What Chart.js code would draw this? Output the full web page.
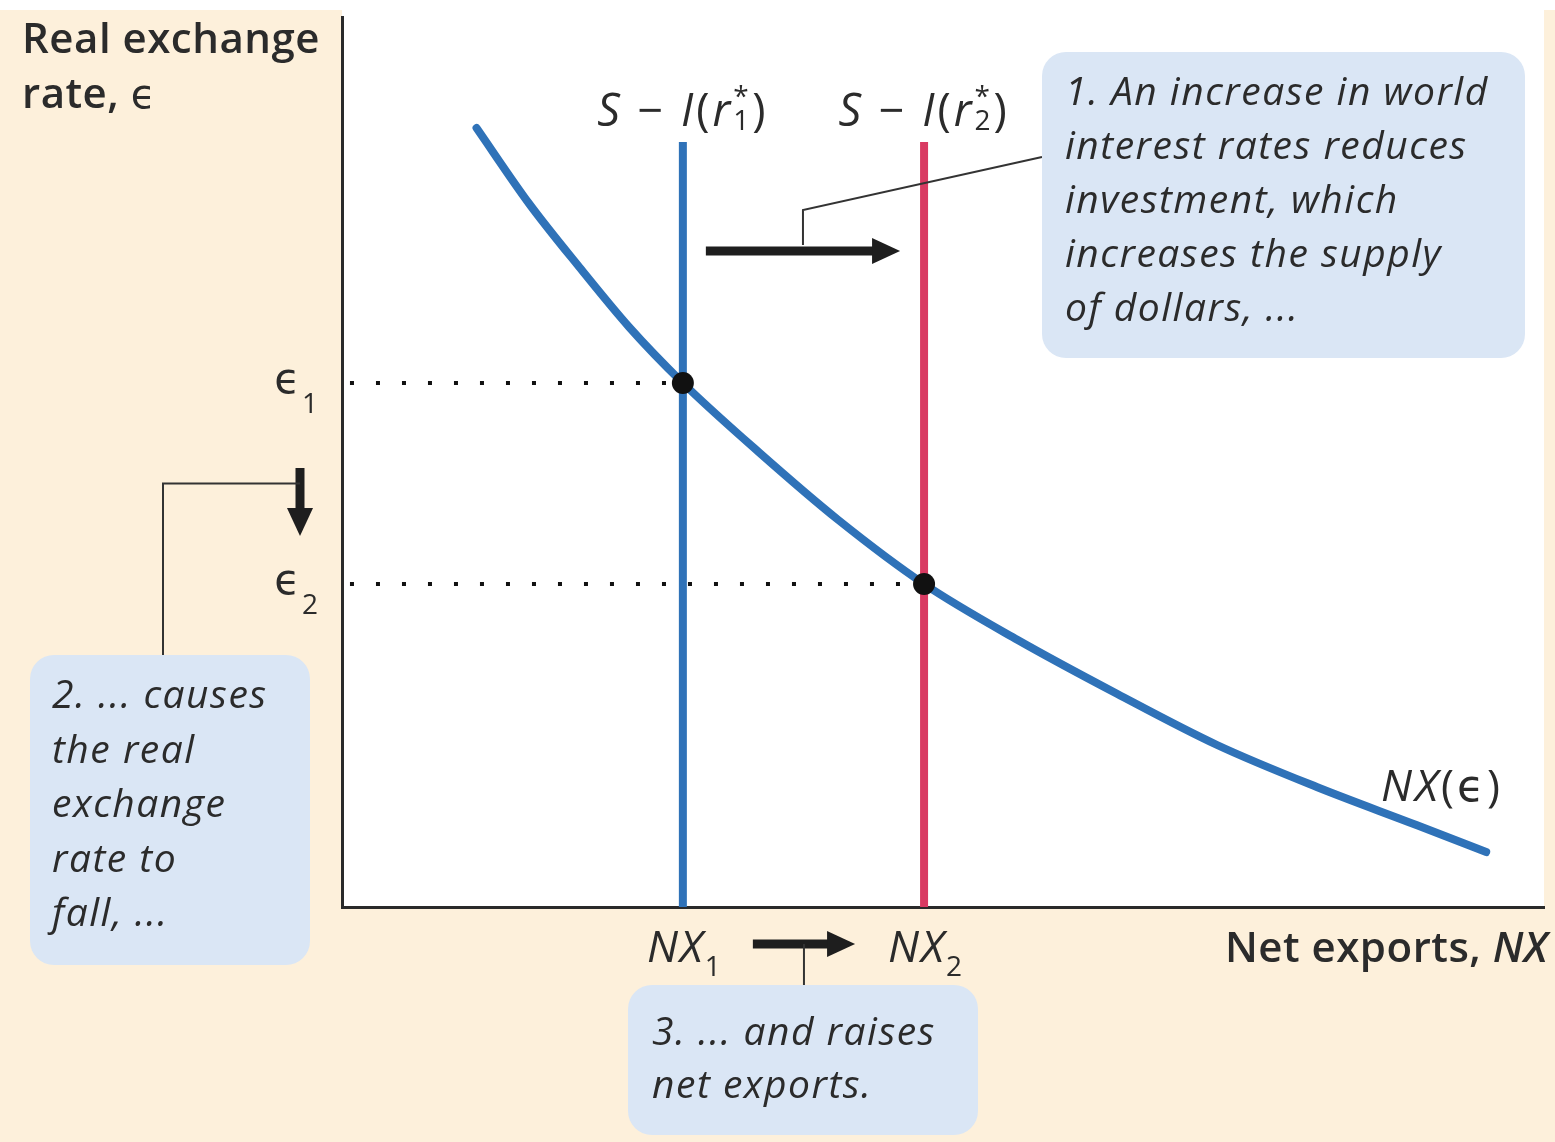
<!DOCTYPE html>
<html>
<head>
<meta charset="utf-8">
<script src="https://cdn.jsdelivr.net/npm/chart.js@4.4.1/dist/chart.umd.min.js"></script>
<style>
  html, body { margin: 0; padding: 0; background: #fdf0db; }
  #wrap { width: 1555px; height: 1142px; position: relative; }
</style>
</head>
<body>
<div id="wrap"><canvas id="chart" width="1555" height="1142"></canvas></div>
<script>
// NX(eps) curve (x = net exports, y = real exchange rate)
var curveNX  = [13.5, 18.8, 23.8, 28.8, 34.2, 41.8, 49.8, 58.4, 67.8, 77.8, 87.8, 97.8, 107.8, 114.8];
var curveEps = [77.9, 70.3, 64.0, 58.0, 52.4, 45.5, 38.7, 32.3, 26.7, 21.3, 16.2, 12.0, 8.2, 5.5];
// S - I(r*) vertical lines and the two equilibria
var nxLevels  = [34.2, 58.4];   // NX1, NX2
var epsLevels = [52.4, 32.3];   // eps1, eps2
var lineTop = 76.5;
var xRange = [0, 120.6];
var yRange = [0, 89];

var BLUE = '#2f72b8';
var RED = '#d93a62';
var INK = '#2b2b2b';
var BOX = '#dae6f5';
var FAM = '"Open Sans", "DejaVu Sans", sans-serif';

function pts(xs, ys) {
  return xs.map(function(x, i) { return { x: x, y: ys[i] }; });
}

// draw a row of text pieces with different fonts / offsets
function rich(ctx, parts, x, y, align, sp) {
  ctx.letterSpacing = (sp || 0) + 'px';
  var w = 0;
  parts.forEach(function(p) {
    ctx.font = p.f;
    p.w = p.adv != null ? p.adv : ctx.measureText(p.t).width;
    w += p.w;
  });
  var cx = align === 'center' ? x - w / 2 : (align === 'right' ? x - w : x);
  ctx.textAlign = 'left';
  parts.forEach(function(p) {
    ctx.font = p.f;
    ctx.fillText(p.t, cx + (p.dx || 0), y + (p.dy || 0));
    cx += p.w;
  });
  ctx.letterSpacing = '0px';
}

function arrow(ctx, x1, y1, x2, y2) {
  var ang = Math.atan2(y2 - y1, x2 - x1);
  var hl = 28, hw = 13;
  var bx = x2 - hl * Math.cos(ang), by = y2 - hl * Math.sin(ang);
  ctx.strokeStyle = '#1e1e1e';
  ctx.lineWidth = 9;
  ctx.lineCap = 'butt';
  ctx.beginPath(); ctx.moveTo(x1, y1); ctx.lineTo(bx + 2 * Math.cos(ang), by + 2 * Math.sin(ang)); ctx.stroke();
  ctx.fillStyle = '#1e1e1e';
  ctx.beginPath();
  ctx.moveTo(x2, y2);
  ctx.lineTo(bx - hw * Math.sin(ang), by + hw * Math.cos(ang));
  ctx.lineTo(bx + hw * Math.sin(ang), by - hw * Math.cos(ang));
  ctx.closePath(); ctx.fill();
}

function poly(ctx, list) {
  ctx.strokeStyle = '#333';
  ctx.lineWidth = 2;
  ctx.beginPath();
  ctx.moveTo(list[0][0], list[0][1]);
  for (var i = 1; i < list.length; i++) ctx.lineTo(list[i][0], list[i][1]);
  ctx.stroke();
}

function box(ctx, x, y, w, h, r) {
  ctx.fillStyle = BOX;
  ctx.beginPath();
  ctx.moveTo(x + r, y);
  ctx.arcTo(x + w, y, x + w, y + h, r);
  ctx.arcTo(x + w, y + h, x, y + h, r);
  ctx.arcTo(x, y + h, x, y, r);
  ctx.arcTo(x, y, x + w, y, r);
  ctx.closePath(); ctx.fill();
}

function lines(ctx, list, x, y, step) {
  ctx.fillStyle = INK;
  ctx.font = 'italic 39px ' + FAM;
  ctx.letterSpacing = '1.5px';
  ctx.textAlign = 'left';
  list.forEach(function(t, i) { ctx.fillText(t, x, y + i * step); });
  ctx.letterSpacing = '0px';
}

var backdrop = {
  id: 'backdrop',
  beforeDraw: function(chart) {
    var ctx = chart.ctx, a = chart.chartArea;
    ctx.save();
    ctx.fillStyle = '#fdf0db';
    ctx.fillRect(0, 0, chart.width, chart.height);
    ctx.fillStyle = '#ffffff';
    ctx.fillRect(0, 0, chart.width, 10);
    ctx.fillRect(a.left, 0, a.right - a.left, a.bottom);
    ctx.restore();
  }
};

var notes = {
  id: 'notes',
  afterDatasetsDraw: function(chart) {
    var ctx = chart.ctx;
    var xs = chart.scales.x, ys = chart.scales.y;
    var x1 = xs.getPixelForValue(nxLevels[0]), x2 = xs.getPixelForValue(nxLevels[1]);
    var e1 = ys.getPixelForValue(epsLevels[0]), e2 = ys.getPixelForValue(epsLevels[1]);
    var base = ys.getPixelForValue(0);
    ctx.save();
    ctx.textBaseline = 'alphabetic';
    ctx.fillStyle = INK;

    // axis titles
    rich(ctx, [{ t: 'Real exchange', f: '600 42px ' + FAM }], 22, 53, 'left', 0.5);
    rich(ctx, [{ t: 'rate, ', f: '600 42px ' + FAM }, { t: '\u03f5', f: '40px ' + FAM }], 22, 108, 'left', 0.5);
    rich(ctx, [
      { t: 'Net exports, ', f: '600 42px ' + FAM },
      { t: 'NX', f: 'italic 600 42px ' + FAM }
    ], 1548, base + 55, 'right', 0.5);

    // S - I(r*) labels
    var IT = 'italic 45px ' + FAM, RG = '45px ' + FAM, SM = '28px ' + FAM;
    ['1', '2'].forEach(function(n, i) {
      rich(ctx, [
        { t: 'S', f: IT }, { t: ' \u2212 ', f: RG }, { t: 'I', f: IT },
        { t: '(', f: RG }, { t: 'r', f: IT },
        { t: '*', f: SM, dy: -20, adv: 0 }, { t: n, f: SM, dy: 4 },
        { t: ')', f: RG }
      ], i === 0 ? x1 : x2, 126, 'center', 3);
    });

    // eps ticks
    [e1, e2].forEach(function(py, i) {
      rich(ctx, [
        { t: '\u03f5', f: '42px ' + FAM },
        { t: String(i + 1), f: '28px ' + FAM, dy: 20 }
      ], 320, py + 10, 'right', 2);
    });

    // NX ticks
    [x1, x2].forEach(function(px, i) {
      rich(ctx, [
        { t: 'NX', f: 'italic 44px ' + FAM },
        { t: String(i + 1), f: '28px ' + FAM, dy: 14 }
      ], px + 2, base + 55, 'center', 2);
    });

    // NX(eps) label
    rich(ctx, [
      { t: 'NX', f: 'italic 44px ' + FAM },
      { t: '(\u03f5)', f: '44px ' + FAM }
    ], 1503, 801, 'right', 3);

    // arrows and callout leaders
    var ay = 251;
    arrow(ctx, x1 + 23, ay, x2 - 24, ay);
    var am = (x1 + 23 + x2 - 24) / 2;
    poly(ctx, [[am, ay - 6], [am, 210], [1042, 157]]);

    arrow(ctx, 300, e1 + 85, 300, e2 - 48);
    poly(ctx, [[300, (e1 + e2) / 2], [163, (e1 + e2) / 2], [163, 655]]);

    var by = base + 37;
    arrow(ctx, x1 + 70, by, x2 - 69, by);
    var bm = (x1 + 70 + x2 - 69) / 2;
    poly(ctx, [[bm, by], [bm, 985]]);

    // callout boxes
    box(ctx, 1042, 52, 483, 306, 24);
    lines(ctx, ['1. An increase in world', 'interest rates reduces', 'investment, which',
      'increases the supply', 'of dollars, ...'], 1065, 105, 54);
    box(ctx, 30, 655, 280, 310, 24);
    lines(ctx, ['2. ... causes', 'the real', 'exchange', 'rate to', 'fall, ...'], 52, 708, 54.5);
    box(ctx, 628, 985, 350, 150, 24);
    lines(ctx, ['3. ... and raises', 'net exports.'], 652, 1045, 53);

    ctx.restore();
  }
};

var ctx = document.getElementById('chart').getContext('2d');
var chart = new Chart(ctx, {
  type: 'scatter',
  data: {
    datasets: [
      {
        label: 'equilibria',
        data: pts(nxLevels, epsLevels),
        pointRadius: 11,
        pointBackgroundColor: '#111',
        pointBorderWidth: 0,
        showLine: false
      },
      {
        label: 'NX(eps)',
        data: pts(curveNX, curveEps),
        showLine: true,
        borderColor: BLUE,
        borderWidth: 8,
        borderCapStyle: 'round',
        cubicInterpolationMode: 'monotone',
        pointRadius: 0
      },
      {
        label: 'S - I(r1*)',
        data: [{ x: nxLevels[0], y: 0 }, { x: nxLevels[0], y: lineTop }],
        showLine: true,
        borderColor: BLUE,
        borderWidth: 8,
        pointRadius: 0
      },
      {
        label: 'S - I(r2*)',
        data: [{ x: nxLevels[1], y: 0 }, { x: nxLevels[1], y: lineTop }],
        showLine: true,
        borderColor: RED,
        borderWidth: 8,
        pointRadius: 0
      },
      {
        label: 'eps1 guide',
        data: [{ x: 0.8, y: epsLevels[0] }, { x: nxLevels[0], y: epsLevels[0] }],
        showLine: true,
        borderColor: '#111',
        borderWidth: 4,
        borderDash: [4, 22],
        pointRadius: 0
      },
      {
        label: 'eps2 guide',
        data: [{ x: 0.8, y: epsLevels[1] }, { x: nxLevels[1], y: epsLevels[1] }],
        showLine: true,
        borderColor: '#111',
        borderWidth: 4,
        borderDash: [4, 22],
        pointRadius: 0
      }
    ]
  },
  options: {
    responsive: false,
    devicePixelRatio: 1,
    animation: false,
    events: [],
    layout: { padding: { left: 334, top: 17, right: 3, bottom: 227 } },
    plugins: { legend: { display: false }, tooltip: { enabled: false } },
    scales: {
      x: {
        type: 'linear', min: xRange[0], max: xRange[1],
        grid: { display: false },
        ticks: { display: false },
        border: { display: true, color: '#2a2a2a', width: 3 }
      },
      y: {
        type: 'linear', min: yRange[0], max: yRange[1],
        grid: { display: false },
        ticks: { display: false },
        border: { display: true, color: '#2a2a2a', width: 3 }
      }
    }
  },
  plugins: [backdrop, notes]
});
</script>
</body>
</html>
